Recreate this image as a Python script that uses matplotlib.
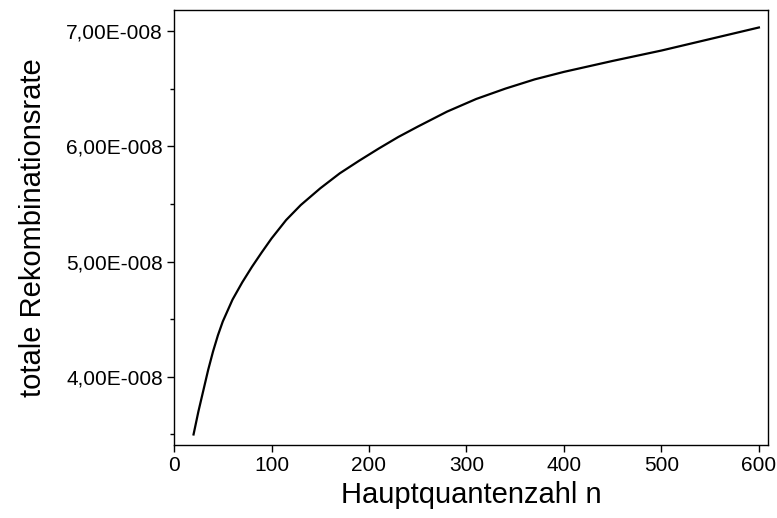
import matplotlib
matplotlib.use("Agg")
import matplotlib.pyplot as plt
from matplotlib.ticker import FuncFormatter, MultipleLocator

plt.rcParams['font.family'] = ['Liberation Sans', 'DejaVu Sans']

n_values = [20, 25, 30, 35, 40, 45, 50, 60, 70, 80, 90, 100, 115, 130, 150,
            170, 190, 210, 230, 250, 280, 310, 340, 370, 400, 450, 500, 550, 600]
rate_e8 = [3.50, 3.70, 3.88, 4.06, 4.22, 4.36, 4.48, 4.67, 4.82, 4.955, 5.08,
           5.20, 5.36, 5.49, 5.635, 5.765, 5.875, 5.98, 6.08, 6.17, 6.30, 6.41,
           6.50, 6.58, 6.645, 6.74, 6.83, 6.93, 7.03]
rate = [v * 1e-8 for v in rate_e8]

fig = plt.figure(figsize=(7.77, 5.18), dpi=100)
ax = fig.add_axes([0.224, 0.141, 0.764, 0.840])
ax.plot(n_values, rate, color='black', linewidth=1.6)

ax.set_xlim(0, 609)
ax.set_ylim(3.409e-8, 7.183e-8)
ax.xaxis.set_major_locator(MultipleLocator(100))
ax.yaxis.set_major_locator(MultipleLocator(1e-8))
ax.yaxis.set_minor_locator(MultipleLocator(0.5e-8))


def fmt(v, pos):
    m = v / 1e-8
    return (f"{m:.2f}".replace('.', ',')) + "E-008"


ax.yaxis.set_major_formatter(FuncFormatter(fmt))
ax.tick_params(axis='both', which='major', direction='out', length=5, width=1,
               labelsize=15, pad=3)
ax.tick_params(axis='y', which='minor', direction='out', length=3, width=1)
for s in ax.spines.values():
    s.set_linewidth(1.0)

ax.set_xlabel('Hauptquantenzahl n', fontsize=21, labelpad=4)
ax.set_ylabel('totale Rekombinationsrate', fontsize=21, labelpad=14)

fig.savefig('out.png', dpi=100)
